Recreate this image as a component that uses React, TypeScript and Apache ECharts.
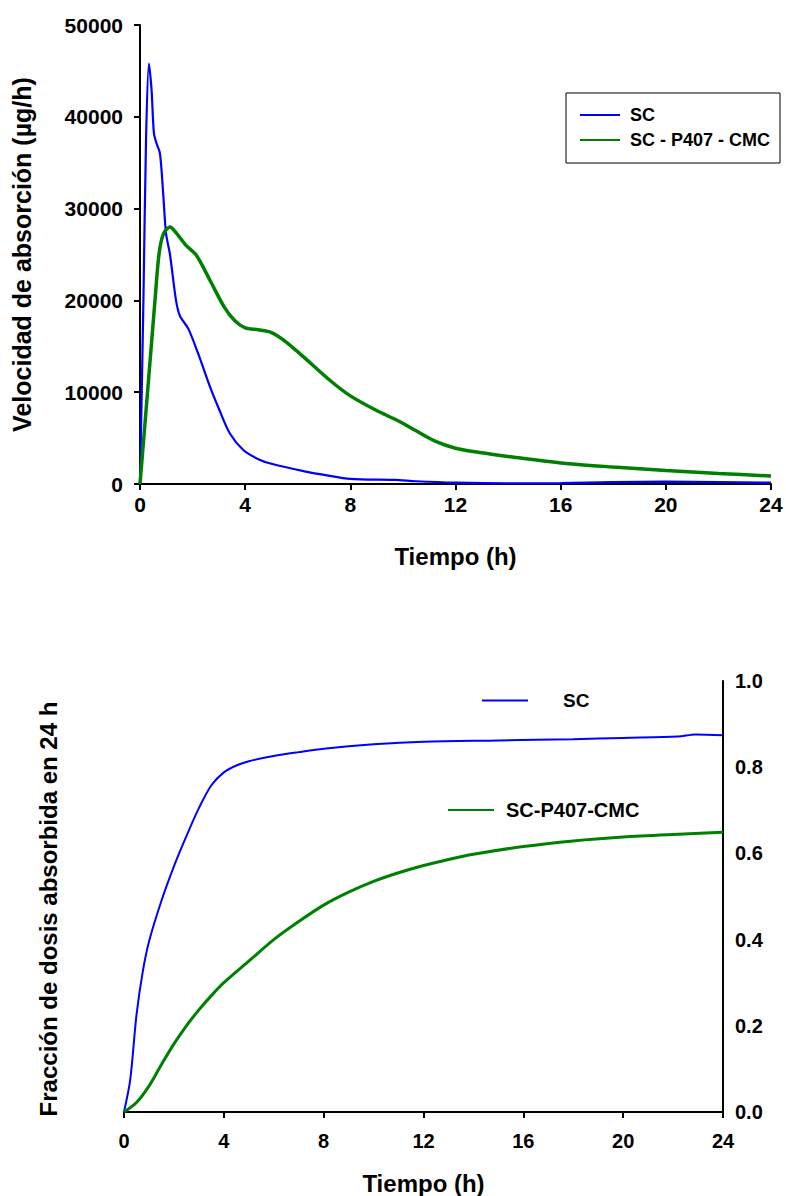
import React, { useEffect, useRef } from "react";
import * as echarts from "echarts";

// Shared time axis ticks (hours)
const hourTicks = [0, 4, 8, 12, 16, 20, 24];

// Absorption rate (µg/h) — plain SC formulation
const rateScTime = [0, 0.13, 0.23, 0.34, 0.44, 0.53, 0.63, 0.76, 0.89, 0.99, 1.14, 1.37, 1.52, 1.84, 2.2, 2.66, 3.0, 3.42, 3.93, 4.5, 5.0, 6.3, 7.0, 8.0, 9.7, 10.5, 12.0, 14.0, 16.0, 18.0, 20.0, 22.0, 24.0];
const rateSc = [0, 20000, 37500, 45800, 42900, 38200, 37100, 36000, 31300, 27300, 25000, 20000, 18300, 16900, 14300, 10600, 8200, 5500, 3700, 2700, 2200, 1350, 1000, 550, 440, 300, 150, 80, 100, 200, 250, 200, 150];

// Absorption rate (µg/h) — SC with P407 and CMC
const rateGelTime = [0, 0.27, 0.57, 0.73, 0.9, 1.14, 1.39, 1.75, 2.15, 2.66, 3.2, 3.6, 4.0, 4.5, 5.0, 5.5, 6.2, 7.22, 8.0, 9.0, 9.76, 10.5, 11.2, 12.0, 13.0, 14.0, 16.0, 18.0, 20.0, 22.0, 24.0];
const rateGel = [0, 9400, 20000, 25200, 27300, 28000, 27300, 26000, 24900, 22200, 19300, 17800, 17000, 16800, 16500, 15600, 13900, 11300, 9600, 8000, 6970, 5800, 4700, 3900, 3400, 3000, 2290, 1850, 1480, 1150, 870];

// Fraction of dose absorbed within 24 h — plain SC
const fracScTime = [0, 0.25, 0.5, 0.75, 1.0, 1.5, 2.0, 2.5, 3.0, 3.5, 4.0, 4.5, 5.0, 6.0, 7.0, 8.0, 10.0, 12.0, 15.0, 18.0, 20.0, 22.2, 22.9, 24.0];
const fracSc = [0, 0.075, 0.225, 0.325, 0.395, 0.49, 0.57, 0.64, 0.705, 0.758, 0.788, 0.804, 0.814, 0.826, 0.835, 0.843, 0.853, 0.859, 0.862, 0.865, 0.868, 0.871, 0.876, 0.874];

// Fraction of dose absorbed within 24 h — SC with P407 and CMC
const fracGelTime = [0, 0.5, 1.0, 1.5, 2.0, 2.5, 3.0, 3.5, 4.0, 5.0, 6.0, 7.0, 8.0, 9.0, 10.0, 11.0, 12.0, 13.0, 14.0, 16.0, 18.0, 20.0, 22.0, 24.0];
const fracGel = [0, 0.022, 0.06, 0.11, 0.158, 0.2, 0.237, 0.27, 0.3, 0.35, 0.4, 0.442, 0.48, 0.51, 0.535, 0.555, 0.572, 0.586, 0.598, 0.616, 0.629, 0.638, 0.644, 0.649];

const rateTicks = [0, 10000, 20000, 30000, 40000, 50000];
const fracTicks = [0, 0.2, 0.4, 0.6, 0.8, 1.0];

const zip = (xs: number[], ys: number[]) => xs.map((x, i) => [x, ys[i]]);

const FONT = "'Liberation Sans', Arial, Helvetica, sans-serif";
const BLUE = "#0000ff";
const GREEN = "#008000";

export default function App() {
  const ref = useRef<HTMLDivElement>(null);

  useEffect(() => {
    document.body.style.margin = "0";
    if (!ref.current) return;
    const chart = echarts.init(ref.current, undefined, { renderer: "svg" });

    const bold = (size: number) => ({
      color: "#000",
      fontFamily: FONT,
      fontWeight: "bold" as const,
      fontSize: size,
    });
    const axisLine = (w: number) => ({
      show: true,
      onZero: false,
      lineStyle: { color: "#000", width: w },
    });
    const tick = { show: true, length: 6, lineStyle: { color: "#000", width: 2 } };

    chart.setOption({
      animation: false,
      backgroundColor: "#fff",
      grid: [
        { left: 140, top: 25, width: 631, height: 459 },
        { left: 124, top: 681, width: 599, height: 431 },
      ],
      xAxis: [
        {
          type: "value",
          gridIndex: 0,
          min: hourTicks[0],
          max: hourTicks[hourTicks.length - 1],
          interval: 4,
          axisLine: axisLine(2),
          axisTick: tick,
          axisLabel: { ...bold(21), margin: 10, formatter: (v: number) => String(v) },
          splitLine: { show: false },
          name: "Tiempo (h)",
          nameLocation: "middle",
          nameGap: 60,
          nameTextStyle: bold(24),
        },
        {
          type: "value",
          gridIndex: 1,
          min: hourTicks[0],
          max: hourTicks[hourTicks.length - 1],
          interval: 4,
          axisLine: axisLine(2),
          axisTick: tick,
          axisLabel: { ...bold(20), margin: 19, formatter: (v: number) => String(v) },
          splitLine: { show: false },
          name: "Tiempo (h)",
          nameLocation: "middle",
          nameGap: 59,
          nameTextStyle: bold(24),
        },
      ],
      yAxis: [
        {
          type: "value",
          gridIndex: 0,
          min: rateTicks[0],
          max: rateTicks[rateTicks.length - 1],
          interval: 10000,
          axisLine: axisLine(2),
          axisTick: tick,
          axisLabel: { ...bold(21), margin: 17, formatter: (v: number) => String(v) },
          splitLine: { show: false },
          name: "Velocidad de absorción (µg/h)",
          nameLocation: "middle",
          nameGap: 106,
          nameTextStyle: bold(25),
        },
        {
          type: "value",
          gridIndex: 1,
          position: "right",
          min: fracTicks[0],
          max: fracTicks[fracTicks.length - 1],
          interval: 0.2,
          axisLine: axisLine(2),
          axisTick: { show: false },
          axisLabel: { ...bold(20), margin: 12, formatter: (v: number) => v.toFixed(1) },
          splitLine: { show: false },
        },
      ],
      graphic: [
        {
          type: "text",
          x: 48,
          y: 909,
          rotation: Math.PI / 2,
          style: {
            text: "Fracción de dosis absorbida en 24 h",
            align: "center",
            verticalAlign: "middle",
            fill: "#000",
            font: `bold 24px ${FONT}`,
          },
        },
      ],
      legend: [
        {
          left: 566,
          top: 93,
          orient: "vertical",
          data: ["SC", "SC - P407 - CMC"],
          borderColor: "#000",
          borderWidth: 1,
          padding: [13, 10, 14, 13],
          itemWidth: 40,
          itemHeight: 14,
          itemGap: 7,
          itemStyle: { opacity: 0 },
          textStyle: { ...bold(18), padding: [0, 0, 0, 5] },
        },
        {
          left: 481,
          top: 691,
          data: ["SC"],
          padding: 0,
          itemWidth: 46,
          itemHeight: 14,
          itemStyle: { opacity: 0 },
          textStyle: { ...bold(19), padding: [0, 0, 0, 30] },
        },
        {
          left: 447,
          top: 800,
          data: ["SC-P407-CMC"],
          padding: 0,
          itemWidth: 46,
          itemHeight: 14,
          itemStyle: { opacity: 0 },
          textStyle: { ...bold(20), padding: [0, 0, 0, 7] },
        },
      ],
      series: [
        {
          name: "SC",
          type: "line",
          xAxisIndex: 0,
          yAxisIndex: 0,
          data: zip(rateScTime, rateSc),
          smooth: 0.3,
          symbol: "none",
          color: BLUE,
          lineStyle: { color: BLUE, width: 2.2 },
        },
        {
          name: "SC - P407 - CMC",
          type: "line",
          xAxisIndex: 0,
          yAxisIndex: 0,
          data: zip(rateGelTime, rateGel),
          smooth: 0.3,
          symbol: "none",
          color: GREEN,
          lineStyle: { color: GREEN, width: 3.5 },
        },
        {
          name: "SC",
          type: "line",
          xAxisIndex: 1,
          yAxisIndex: 1,
          data: zip(fracScTime, fracSc),
          smooth: 0.3,
          symbol: "none",
          color: BLUE,
          lineStyle: { color: BLUE, width: 2 },
        },
        {
          name: "SC-P407-CMC",
          type: "line",
          xAxisIndex: 1,
          yAxisIndex: 1,
          data: zip(fracGelTime, fracGel),
          smooth: 0.3,
          symbol: "none",
          color: GREEN,
          lineStyle: { color: GREEN, width: 3 },
        },
      ],
    });

    return () => chart.dispose();
  }, []);

  return (
    <div
      ref={ref}
      style={{ position: "absolute", left: 0, top: 0, width: 786, height: 1196, background: "#fff" }}
    />
  );
}
